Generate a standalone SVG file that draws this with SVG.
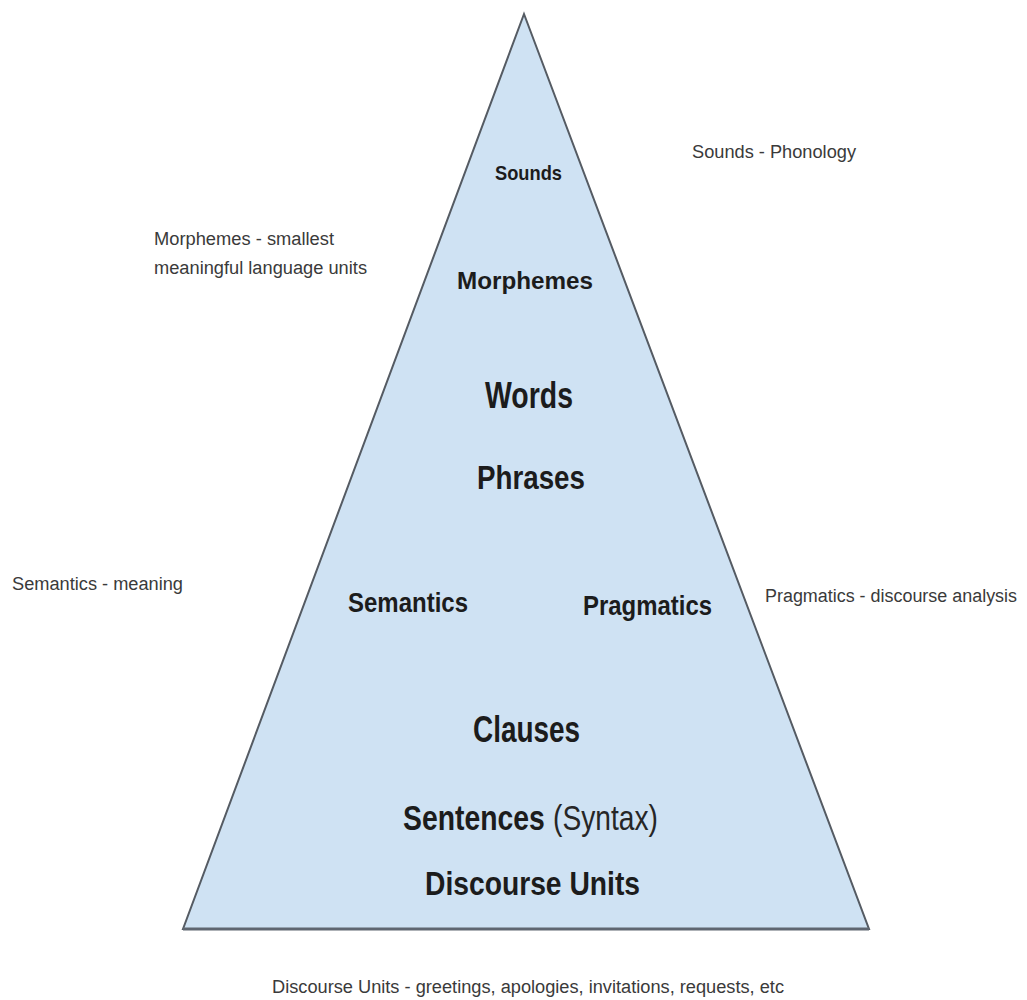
<svg xmlns="http://www.w3.org/2000/svg" width="1027" height="1000" viewBox="0 0 1027 1000">
  <style>
    .tri { fill: #cfe2f3; stroke: #555b63; stroke-width: 2; stroke-linejoin: miter; }
    .base { stroke: #5f6670; stroke-width: 3; }
    .lvl { font-family: "Liberation Sans", Arial, sans-serif; font-weight: bold; fill: #1c1c1c; }
    .reg { font-family: "Liberation Sans", Arial, sans-serif; font-weight: normal; fill: #262626; }
    .note { font-family: "Liberation Sans", Arial, sans-serif; font-size: 18px; fill: #3a3a3a; }
  </style>
  <rect x="0" y="0" width="1027" height="1000" fill="#ffffff"/>
  <g id="pyramid">
    <polygon class="tri" points="524,14 183,929 869,929"/>
    <line class="base" x1="183" y1="929" x2="869" y2="929"/>
  </g>
  <g id="levels">
    <g id="sounds"><text class="lvl" x="495" y="180" font-size="21" textLength="67" lengthAdjust="spacingAndGlyphs">Sounds</text></g>
    <g id="morphemes"><text class="lvl" x="457" y="289" font-size="23" textLength="136" lengthAdjust="spacingAndGlyphs">Morphemes</text></g>
    <g id="words"><text class="lvl" x="485" y="408" font-size="37" textLength="88" lengthAdjust="spacingAndGlyphs">Words</text></g>
    <g id="phrases"><text class="lvl" x="477" y="489" font-size="33" textLength="108" lengthAdjust="spacingAndGlyphs">Phrases</text></g>
    <g id="semantics"><text class="lvl" x="348" y="612" font-size="28" textLength="120" lengthAdjust="spacingAndGlyphs">Semantics</text></g>
    <g id="pragmatics"><text class="lvl" x="583" y="615" font-size="28" textLength="129" lengthAdjust="spacingAndGlyphs">Pragmatics</text></g>
    <g id="clauses"><text class="lvl" x="473" y="742" font-size="36" textLength="107" lengthAdjust="spacingAndGlyphs">Clauses</text></g>
    <g id="sentences">
      <text class="lvl" font-size="35" transform="translate(403,830) scale(0.81,1)">Sentences</text>
      <text class="reg" font-size="35" transform="translate(553,830) scale(0.805,1)">(Syntax)</text>
    </g>
    <g id="discourse-units"><text class="lvl" x="425" y="895" font-size="34" textLength="215" lengthAdjust="spacingAndGlyphs">Discourse Units</text></g>
  </g>
  <g id="notes">
    <g id="note-sounds"><text class="note" x="692" y="158" textLength="164" lengthAdjust="spacingAndGlyphs">Sounds - Phonology</text></g>
    <g id="note-morphemes">
      <text class="note" x="154" y="245" textLength="180" lengthAdjust="spacingAndGlyphs">Morphemes - smallest</text>
      <text class="note" x="154" y="274" textLength="213" lengthAdjust="spacingAndGlyphs">meaningful language units</text>
    </g>
    <g id="note-semantics"><text class="note" x="12" y="590" textLength="171" lengthAdjust="spacingAndGlyphs">Semantics - meaning</text></g>
    <g id="note-pragmatics"><text class="note" x="765" y="602" textLength="252" lengthAdjust="spacingAndGlyphs">Pragmatics - discourse analysis</text></g>
    <g id="note-discourse"><text class="note" x="272" y="993" textLength="512" lengthAdjust="spacingAndGlyphs">Discourse Units - greetings, apologies, invitations, requests, etc</text></g>
  </g>
  <g id="connectors"></g>
</svg>
